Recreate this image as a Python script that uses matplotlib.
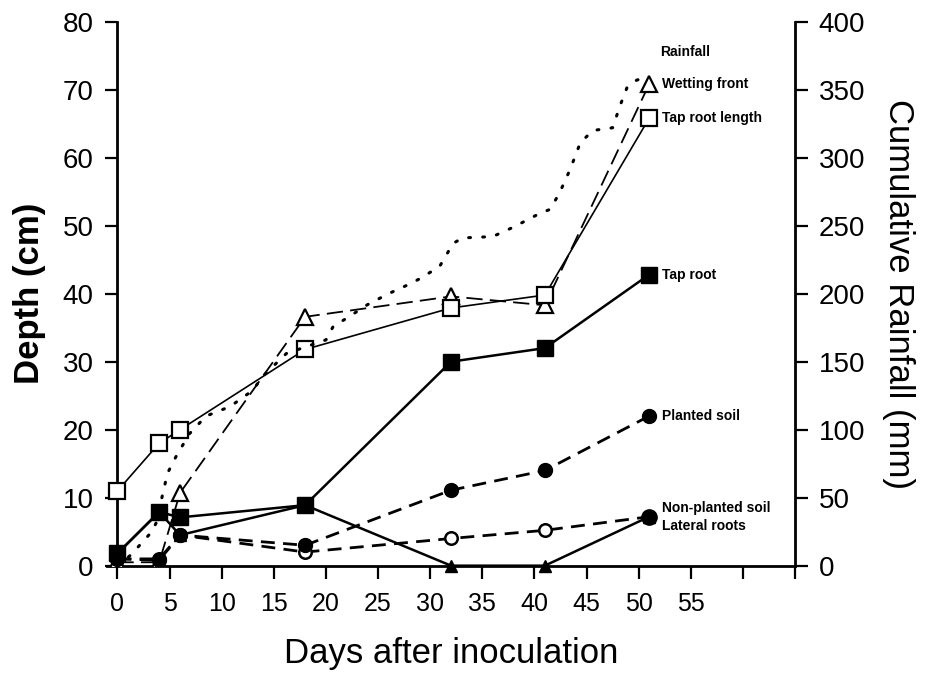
import matplotlib
matplotlib.use("Agg")
import matplotlib.pyplot as plt

plt.rcParams['font.family'] = ['Liberation Sans', 'DejaVu Sans']

# days of sampling
days = [0, 4, 6, 18, 32, 41, 51]

# depth (cm)
tap_root_length = [11, 18, 20, 31.8, 37.9, 39.8, 65.8]
wetting_front = [0.5, 0.5, 10.7, 36.6, 39.6, 38.3, 70.8]
tap_root = [1.8, 7.9, 7.1, 8.9, 30, 32, 42.8]
planted_soil = [1, 0.8, 4.5, 3.0, 11.1, 14, 22]
non_planted_soil = [1, 1, 4.5, 2.0, 4.0, 5.2, 7.2]
lateral_roots = [1.8, 7.9, 4.5, 8.9, 0, 0, 7.2]

# cumulative rainfall (mm)
rain_days = [0, 1.3, 3.3, 4, 4.2, 4.8, 5.6, 6.9, 8.5, 10.8, 13, 13.9, 16.2, 20,
             20.7, 22, 24, 26, 28, 29, 30.9, 32.2, 33.1, 36, 38, 40.5, 41.5,
             42.4, 43.4, 44.4, 45.6, 47.5, 48.2, 48.9, 49.8, 51]
rainfall = [0, 8, 25, 36, 48, 68, 80, 97, 110, 117, 129, 139, 156, 166,
            176, 182, 192, 200, 207, 211, 220, 237, 241, 242, 249, 259, 262,
            274, 291, 311, 320, 322, 338, 352, 357, 360]

fig = plt.figure(figsize=(9.26, 6.76), dpi=100)
ax = fig.add_axes([0.1156, 0.1632, 0.743, 0.8047])
ax2 = ax.twinx()

# rainfall, right axis
ax2.plot(rain_days, rainfall, color='black', linestyle=(0, (0.6, 4)), linewidth=2.2,
         dash_capstyle='round')

ax.plot(days, lateral_roots, color='black', linewidth=1.8, marker='^', markersize=8,
        markerfacecolor='black', zorder=6, clip_on=False)
ax.plot(days, non_planted_soil, color='black', linewidth=2.0, linestyle=(0, (5, 3)),
        marker='o', markersize=9, markerfacecolor='white', markeredgewidth=1.8, zorder=3)
ax.plot(days[-1:], non_planted_soil[-1:], 'ko', markersize=11, zorder=7)
ax.plot(days, planted_soil, color='black', linewidth=2.0, linestyle=(0, (5, 3)),
        marker='o', markersize=10, markerfacecolor='black', zorder=7)
ax.plot(days, wetting_front, color='black', linewidth=1.3, linestyle=(0, (9, 4)),
        marker='^', markersize=11, markerfacecolor='white', markeredgewidth=1.6, zorder=3)
ax.plot(days, tap_root_length, color='black', linewidth=1.2,
        marker='s', markersize=11, markerfacecolor='white', markeredgewidth=1.6, zorder=3)
ax.plot(days, tap_root, color='black', linewidth=1.8,
        marker='s', markersize=11, markerfacecolor='black', zorder=8)

# labels at the end of each series
lab = dict(fontsize=10, fontweight='bold', va='center', textcoords='offset points')
ax2.annotate('Rainfall', xy=(rain_days[-1], rainfall[-1]), xytext=(8, 17), **lab)
ax.annotate('Wetting front', xy=(days[-1], wetting_front[-1]), xytext=(9, 0), **lab)
ax.annotate('Tap root length', xy=(days[-1], tap_root_length[-1]), xytext=(9, 0), **lab)
ax.annotate('Tap root', xy=(days[-1], tap_root[-1]), xytext=(9, 0), **lab)
ax.annotate('Planted soil', xy=(days[-1], planted_soil[-1]), xytext=(9, 0), **lab)
ax.annotate('Non-planted soil', xy=(days[-1], non_planted_soil[-1]), xytext=(9, 6), **lab)
ax.annotate('Lateral roots', xy=(days[-1], lateral_roots[-1]), xytext=(9, -7), **lab)

ax.set_xlim(-1, 65)
ax.set_ylim(0, 80)
ax2.set_ylim(0, 400)

xt = list(range(0, 70, 5))
ax.set_xticks(xt)
ax.set_xticklabels([str(v) if v <= 55 else '' for v in xt])
ax.set_yticks(range(0, 90, 10))
ax2.set_yticks(range(0, 450, 50))

for a in (ax, ax2):
    a.spines['top'].set_visible(False)
    a.tick_params(direction='out', length=9, width=1.6, labelsize=20, pad=8)
    for s in a.spines.values():
        s.set_linewidth(2.0)
ax.spines['right'].set_visible(False)
ax.spines['left'].set_position(('data', 0))
ax2.spines['left'].set_visible(False)
ax2.spines['bottom'].set_visible(False)
ax.tick_params(axis='x', labelsize=18, pad=10)

ax.set_ylabel('Depth (cm)', fontsize=25, fontweight='bold', labelpad=12)
ax.set_xlabel('Days after inoculation', fontsize=25, labelpad=15)
ax2.set_ylabel('Cumulative Rainfall (mm)', fontsize=25, rotation=270, labelpad=36)

fig.savefig('out.png', dpi=100)
